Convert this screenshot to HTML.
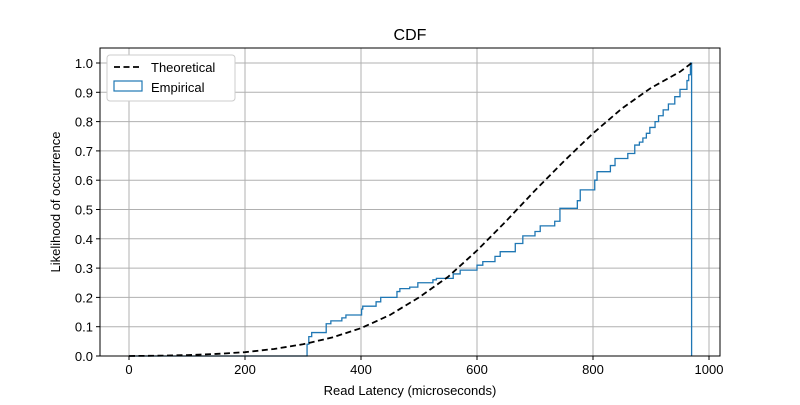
<!DOCTYPE html>
<html><head><meta charset="utf-8"><style>
body{margin:0;background:#fff}
svg text{font-family:"Liberation Sans",sans-serif;fill:#000}
</style></head><body>
<svg id="c" width="800" height="400" xmlns="http://www.w3.org/2000/svg"></svg>
<script>
const xTicks=[0,200,400,600,800,1000];
const yTicks=[0,0.1,0.2,0.3,0.4,0.5,0.6,0.7,0.8,0.9,1.0];
const theoX=[0,50,100,150,200,250,300,350,400,450,500,550,600,650,700,750,800,850,900,950,970];
const theoY=[0,0.001,0.003,0.007,0.013,0.024,0.04,0.063,0.095,0.14,0.2,0.27,0.36,0.46,0.565,0.665,0.76,0.845,0.915,0.97,1.0];
const empX=[307,310,315,340,348,367,374,401,403,426,434,462,467,484,498,524,530,559,571,600,610,631,640,666,679,700,709,734,743,773,778,803,807,830,838,860,872,880,886,892,898,907,913,921,930,941,950,962,965,968];
const empY=[0.04,0.066,0.08,0.11,0.12,0.13,0.14,0.16,0.17,0.185,0.2,0.22,0.23,0.235,0.25,0.26,0.265,0.28,0.293,0.31,0.322,0.34,0.356,0.384,0.41,0.425,0.444,0.46,0.504,0.53,0.567,0.6,0.629,0.65,0.674,0.691,0.72,0.73,0.744,0.76,0.78,0.8,0.82,0.84,0.86,0.885,0.91,0.94,0.96,1.0];
const L=100,R=720,T=48,B=356;
const sx=v=>129+v*0.58, sy=v=>356-v*293;
const svg=document.getElementById('c');const NS='http://www.w3.org/2000/svg';
function mk(t,a,p){const e=document.createElementNS(NS,t);for(const k in a)e.setAttribute(k,a[k]);(p||svg).appendChild(e);return e;}
let e;
xTicks.forEach(v=>{e=mk('line',{x1:sx(v),x2:sx(v),y1:T,y2:B,stroke:'#b0b0b0','stroke-width':1});

e=mk('line',{x1:sx(v),x2:sx(v),y1:B,y2:B+4,stroke:'#000'});
e=mk('text',{x:sx(v),y:B+18,'text-anchor':'middle','font-size':13});e.textContent=v;
});
yTicks.forEach(v=>{e=mk('line',{x1:L,x2:R,y1:sy(v),y2:sy(v),stroke:'#b0b0b0','stroke-width':1});

e=mk('line',{x1:L-4,x2:L,y1:sy(v),y2:sy(v),stroke:'#000'});
e=mk('text',{x:L-7,y:sy(v)+5,'text-anchor':'end','font-size':13});e.textContent=v.toFixed(1);
});
let d=`M${sx(0)},${sy(0)} L${sx(empX[0])},${sy(0)}`;
empX.forEach((x,i)=>{d+=` L${sx(x)},${i?sy(empY[i-1]):sy(0)} L${sx(x)},${sy(empY[i])}`;if(i<empX.length-1)d+=` L${sx(empX[i+1])},${sy(empY[i])}`;});
d+=` L${sx(970)},${sy(empY[empY.length-1])} L${sx(970)},${sy(0)}`;
e=mk('path',{d:d,fill:'none',stroke:'#1f77b4','stroke-width':1.3});

e=mk('polyline',{points:theoX.map((x,i)=>sx(x)+','+sy(theoY[i])).join(' '),fill:'none',stroke:'#000','stroke-width':1.8,'stroke-dasharray':'6,3.5'});

e=mk('rect',{x:L,y:T,width:R-L,height:B-T,fill:'none',stroke:'#000','stroke-width':1});

e=mk('text',{x:410,y:40,'text-anchor':'middle','font-size':16});e.textContent='CDF';

e=mk('text',{x:410,y:395,'text-anchor':'middle','font-size':13});e.textContent='Read Latency (microseconds)';

e=mk('text',{x:60,y:202,'text-anchor':'middle','font-size':13,transform:'rotate(-90 60 202)'});e.textContent='Likelihood of occurrence';

const g=mk('g',{});

mk('rect',{x:107,y:55,width:128,height:46,rx:3,fill:'#fff',stroke:'#ccc'},g);
e=mk('line',{x1:114,x2:142,y1:67,y2:67,stroke:'#000','stroke-width':1.8,'stroke-dasharray':'6,3.5'},g);
e=mk('text',{x:151,y:72,'font-size':13},g);e.textContent='Theoretical';

mk('rect',{x:114,y:81,width:28,height:10,fill:'none',stroke:'#1f77b4','stroke-width':1.2},g);
e=mk('text',{x:151,y:92,'font-size':13},g);e.textContent='Empirical';

</script>
</body></html>
